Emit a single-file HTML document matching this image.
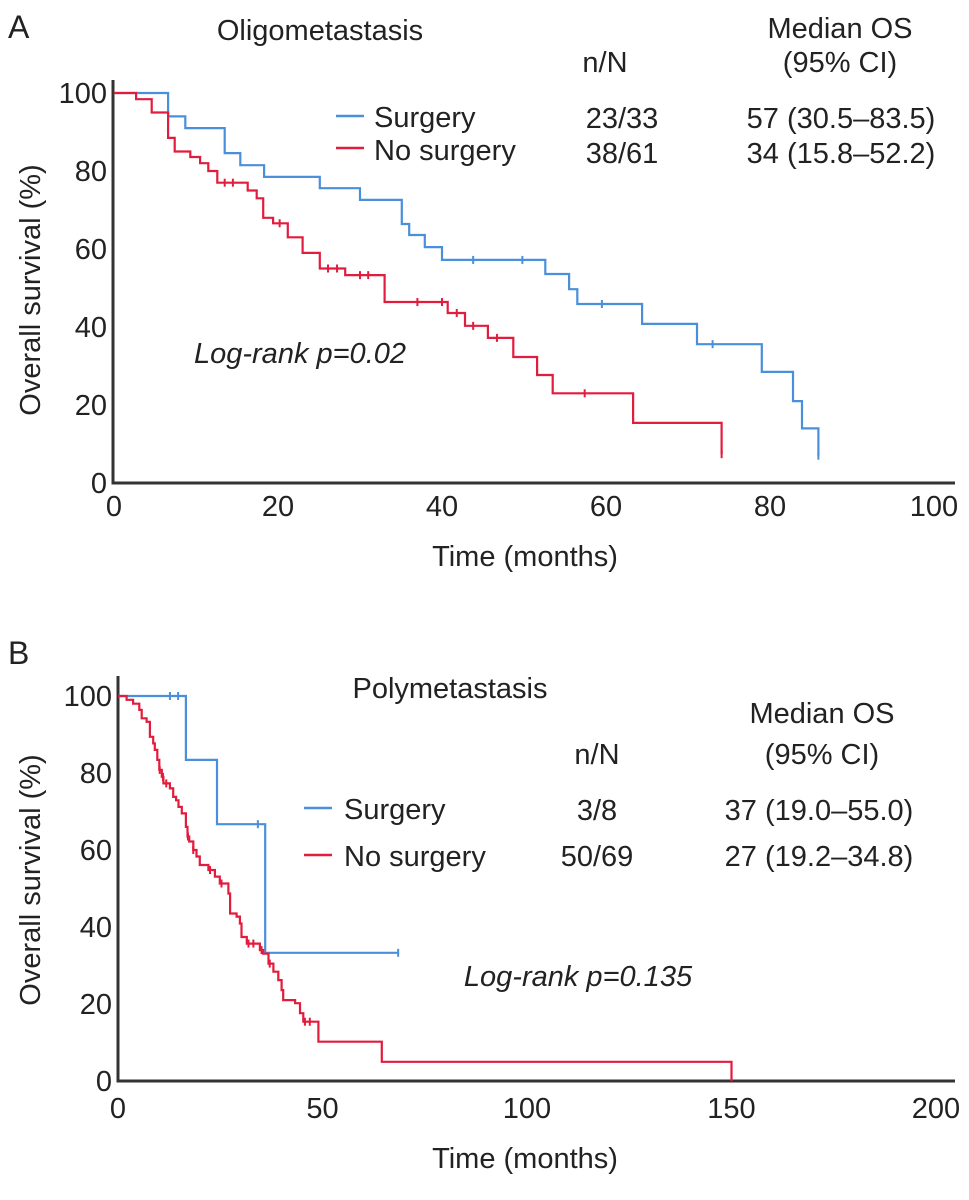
<!DOCTYPE html>
<html><head><meta charset="utf-8"><style>
html,body{margin:0;padding:0;background:#fff;}
svg{display:block;font-family:"Liberation Sans",sans-serif;fill:#222;}
text{fill:#222;}
</style></head><body>
<svg id="fig" width="969" height="1200" viewBox="0 0 969 1200">
<g id="pA"></g>
<g id="pB"></g>
</svg>
<script>
// Panel A data
const aTicksX = [0,20,40,60,80,100];
const aTicksY = [0,20,40,60,80,100];
const aSurgTimes = [6.6,8.7,13.5,15.4,18.3,25.1,30,35.1,36,37.9,40,52.6,55.5,56.5,64.4,71.1,79,82.8,83.9,85.9];
const aSurgSurv  = [94,91,84.6,81.5,78.5,75.6,72.6,66.4,63.6,60.5,57.2,53.6,49.7,45.9,40.8,35.6,28.5,21,14,7];
const aSurgCens  = [43.8,49.8,59.5,73,85.9];
const aNoTimes = [2.7,4.6,6.6,7.4,9.3,10.5,11.5,12.6,16.3,17.4,18.2,19.4,21.2,23,25.1,28.2,33,40.7,42.8,45.6,48.7,51.6,53.5,63.3,74.1];
const aNoSurv  = [98.4,95,88.5,85,83.6,82,80,77,75,73,68,66.6,63,59,55,53.3,46.4,43.6,40.3,37.2,32.3,27.7,23,15.4,7.4];
const aNoCens  = [13.5,14.5,20.2,26.1,27.2,30,31,37,40,41.8,43.8,46.7,57.4,74.1];
// Panel B data
const bTicksX = [0,50,100,150,200];
const bTicksY = [0,20,40,60,80,100];
const bSurgTimes = [16.6,24.2,36];
const bSurgSurv  = [83.4,66.7,33.3];
const bSurgCens  = [12.7,14.7,34.2,68.5];
const bNoTimes = [2.1,3.7,5.2,5.8,7.0,7.8,8.6,9.0,9.6,10.1,10.7,11.1,12.7,13.5,14.2,14.8,15.6,16.6,17.0,17.4,18.4,19.2,20.0,22.1,23.7,24.9,27.0,27.4,29.0,29.8,30.2,31.5,34.7,35.5,36.8,38.0,39.2,40.0,40.4,43.3,44.5,45.3,49.0,64.5,150];
const bNoSurv  = [99,98,96.4,94.2,93.3,89.4,87.7,86,83.4,80.8,79,77.3,76,73.8,72.9,71.2,69.5,66,63.5,62.2,60,58.3,56.1,54.8,53.1,51.3,48.7,43.5,42.7,40.9,37.4,35.7,34,33.1,30.5,28.4,26.2,23.6,21,20.2,17.6,15.4,10.2,5,0];
const bNoCens  = [10.2,11,11.8,17.1,18.4,22.5,25.3,31.9,33.1,35.1,37.1,45.7,46.9];

const NS="http://www.w3.org/2000/svg";
function mk(parent,tag,attrs,txt){const e=document.createElementNS(NS,tag);for(const k in attrs)e.setAttribute(k,attrs[k]);if(txt!==undefined)e.textContent=txt;parent.appendChild(e);return e;}
const BLUE="#4a8fdc", RED="#e21c3c";

function survAt(times,surv,t){let v=100;for(let i=0;i<times.length;i++){if(times[i]<=t+1e-9)v=surv[i];}return v;}

function drawCurve(g,X,Y,times,surv,cens,color,name){
  let d="M"+X(0)+","+Y(100);
  for(let i=0;i<times.length;i++){d+=" H"+X(times[i]).toFixed(1)+" V"+Y(surv[i]).toFixed(1);}
  const lastT=times[times.length-1];
  const maxC=Math.max.apply(null,cens);
  if(maxC>lastT) d+=" H"+X(maxC).toFixed(1);
  const p=mk(g,"path",{d:d,fill:"none",stroke:color,"stroke-width":2.2});
  
  
  cens.forEach(function(c){
    const yy=Y(survAt(times,surv,c));
    const m=mk(g,"line",{x1:X(c),x2:X(c),y1:yy-4,y2:yy+4,stroke:color,"stroke-width":2});
    
    
  });
}

function drawAxes(g,X,Y,ticksX,ticksY,x0,x1,y0,y1,tickY,titleY,ytitleY){
  const ax=mk(g,"path",{d:"M"+x0+","+y1+" V"+y0+" H"+x1,fill:"none",stroke:"#333","stroke-width":3});
  
  
  ticksX.forEach(function(t){
    const e=mk(g,"text",{x:X(t),y:tickY,"text-anchor":"middle","font-size":29},String(t));
    
    
  });
  ticksY.forEach(function(t){
    const e=mk(g,"text",{x:x0-6,y:Y(t)+10,"text-anchor":"end","font-size":29},String(t));
    
    
  });
  const xt=mk(g,"text",{x:525,y:titleY,"text-anchor":"middle","font-size":29},"Time (months)");
  
  
  const yt=mk(g,"text",{x:0,y:0,"text-anchor":"middle","font-size":29,transform:"translate(40,"+ytitleY+") rotate(-90)"},"Overall survival (%)");
  
  
}

function txt(g,x,y,s,anchor,name,extra){
  const a={x:x,y:y,"text-anchor":anchor||"start","font-size":29};
  if(extra)for(const k in extra)a[k]=extra[k];
  const e=mk(g,"text",a,s);
  
  
  return e;
}

// Panel A
(function(){
  const g=document.getElementById("pA");
  const X=t=>114+8.2*t, Y=v=>483-3.9*v;
  drawAxes(g,X,Y,aTicksX,aTicksY,113,955,483,80,516,566,290);
  drawCurve(g,X,Y,aSurgTimes,aSurgSurv,aSurgCens,BLUE,"surgery-a");
  drawCurve(g,X,Y,aNoTimes,aNoSurv,aNoCens,RED,"no-surgery-a");
  txt(g,8,38,"A","start","panel-label-a",{"font-size":32});
  txt(g,320,40,"Oligometastasis","middle","panel-title-a");
  txt(g,605,72,"n/N","middle","col-header-nn");
  txt(g,840,38,"Median OS","middle","col-header-median");
  txt(g,840,72,"(95% CI)","middle","col-header-ci");
  const l1=mk(g,"line",{x1:336,x2:364,y1:116,y2:116,stroke:BLUE,"stroke-width":2.5});
  
  
  const l2=mk(g,"line",{x1:336,x2:364,y1:148,y2:148,stroke:RED,"stroke-width":2.5});
  
  
  txt(g,374,127,"Surgery","start","legend-entry-surgery");
  txt(g,374,160,"No surgery","start","legend-entry-no-surgery");
  txt(g,622,128,"23/33","middle","nn-surgery");
  txt(g,622,163,"38/61","middle","nn-no-surgery");
  txt(g,841,128,"57 (30.5–83.5)","middle","median-surgery");
  txt(g,841,163,"34 (15.8–52.2)","middle","median-no-surgery");
  txt(g,300,363,"Log-rank p=0.02","middle","logrank-a",{"font-style":"italic"});
})();

// Panel B
(function(){
  const g=document.getElementById("pB");
  const X=t=>118+4.09*t, Y=v=>1081-3.85*v;
  drawAxes(g,X,Y,bTicksX,bTicksY,118,955,1081,676,1118,1168,880);
  drawCurve(g,X,Y,bSurgTimes,bSurgSurv,bSurgCens,BLUE,"surgery-b");
  drawCurve(g,X,Y,bNoTimes,bNoSurv,bNoCens,RED,"no-surgery-b");
  txt(g,8,664,"B","start","panel-label-b",{"font-size":32});
  txt(g,450,698,"Polymetastasis","middle","panel-title-b");
  txt(g,597,764,"n/N","middle","col-header-nn-b");
  txt(g,822,723,"Median OS","middle","col-header-median-b");
  txt(g,822,764,"(95% CI)","middle","col-header-ci-b");
  const l1=mk(g,"line",{x1:304,x2:332,y1:808,y2:808,stroke:BLUE,"stroke-width":2.5});
  
  
  const l2=mk(g,"line",{x1:304,x2:332,y1:855,y2:855,stroke:RED,"stroke-width":2.5});
  
  
  txt(g,344,819,"Surgery","start","legend-entry-surgery-b");
  txt(g,344,866,"No surgery","start","legend-entry-no-surgery-b");
  txt(g,597,820,"3/8","middle","nn-surgery-b");
  txt(g,597,866,"50/69","middle","nn-no-surgery-b");
  txt(g,819,820,"37 (19.0–55.0)","middle","median-surgery-b");
  txt(g,819,866,"27 (19.2–34.8)","middle","median-no-surgery-b");
  txt(g,578,986,"Log-rank p=0.135","middle","logrank-b",{"font-style":"italic"});
})();
</script>
</body></html>
